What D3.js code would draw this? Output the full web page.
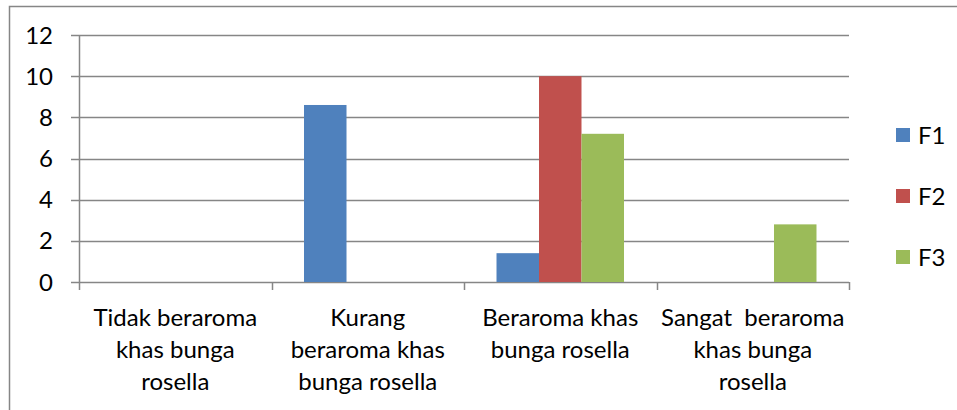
<!DOCTYPE html>
<html>
<head>
<meta charset="utf-8">
<script src="https://cdn.jsdelivr.net/npm/d3@7"></script>
<style>
  html, body { margin: 0; padding: 0; background: #fff; }
  svg { display: block; }
  text { font-family: Lato, "Open Sans", sans-serif; fill: #000; }
</style>
</head>
<body>
<div id="chart"></div>
<script>
// Chart data
const categories = ["Tidak beraroma", "Kurang beraroma", "Beraroma", "Sangat beraroma"];
const categoryLines = [
    ["Tidak beraroma", "khas bunga", "rosella"],
    ["Kurang", "beraroma khas", "bunga rosella"],
    ["Beraroma khas", "bunga rosella"],
    ["Sangat  beraroma", "khas bunga", "rosella"]
];
const seriesNames = ["F1", "F2", "F3"];
const seriesColors = ["#4F81BD", "#C0504D", "#9BBB59"];
const valuesF1 = [0, 8.6, 1.4, 0];
const valuesF2 = [0, 0, 10, 0];
const valuesF3 = [0, 0, 7.2, 2.8];
const yTicks = [0, 2, 4, 6, 8, 10, 12];

const width = 957, height = 410;
const plotLeft = 79, plotRight = 849, plotTop = 35, plotBottom = 282;
const fontSize = 24;

const svg = d3.select("#chart").append("svg")
    .attr("width", width)
    .attr("height", height);

// Outer frame (only top and left edges visible)
svg.append("path")
    .attr("d", `M9.5,${height} V6.5 H${width}`)
    .attr("fill", "none")
    .attr("stroke", "#868686")
    .attr("stroke-width", 1.5);

const x0 = d3.scaleBand()
    .domain(categories)
    .range([plotLeft, plotRight])
    .padding(0);

const x1 = d3.scaleBand()
    .domain(seriesNames)
    .range([0, x0.bandwidth()])
    .paddingInner(0)
    .paddingOuter(0.765);

const y = d3.scaleLinear()
    .domain([0, 12])
    .range([plotBottom, plotTop]);

const color = d3.scaleOrdinal().domain(seriesNames).range(seriesColors);

// Gridlines with left tick marks
svg.append("g")
    .selectAll("line")
    .data(yTicks)
    .enter()
    .append("line")
    .attr("x1", plotLeft - 8)
    .attr("x2", plotRight)
    .attr("y1", d => Math.round(y(d)) + 0.5)
    .attr("y2", d => Math.round(y(d)) + 0.5)
    .attr("stroke", "#868686")
    .attr("stroke-width", 1.5);

// Y axis labels
svg.append("g")
    .selectAll("text")
    .data(yTicks)
    .enter()
    .append("text")
    .attr("x", 53)
    .attr("y", d => y(d))
    .attr("dy", "0.36em")
    .attr("text-anchor", "end")
    .style("font-size", fontSize + "px")
    .text(d => d);

// Bars
const seriesValues = [valuesF1, valuesF2, valuesF3];
const barData = [];
seriesNames.forEach((s, si) => {
    categories.forEach((c, ci) => {
        barData.push({ series: s, category: c, value: seriesValues[si][ci] });
    });
});

svg.append("g")
    .selectAll("rect")
    .data(barData.filter(d => d.value > 0))
    .enter()
    .append("rect")
    .attr("x", d => x0(d.category) + x1(d.series))
    .attr("width", x1.bandwidth())
    .attr("y", d => y(d.value))
    .attr("height", d => y(0) - y(d.value))
    .attr("fill", d => color(d.series));

// Axis lines
svg.append("line")
    .attr("x1", plotLeft + 0.5).attr("x2", plotLeft + 0.5)
    .attr("y1", plotTop).attr("y2", plotBottom + 1)
    .attr("stroke", "#868686")
    .attr("stroke-width", 1.5);

const xBoundaries = categories.map(c => x0(c)).concat([plotRight]);
svg.append("g")
    .selectAll("line")
    .data(xBoundaries)
    .enter()
    .append("line")
    .attr("x1", d => Math.round(d) + 0.5)
    .attr("x2", d => Math.round(d) + 0.5)
    .attr("y1", plotBottom)
    .attr("y2", plotBottom + 8)
    .attr("stroke", "#868686")
    .attr("stroke-width", 1.5);

// Category labels
const catLabel = svg.append("g")
    .selectAll("text")
    .data(categories)
    .enter()
    .append("text")
    .attr("x", d => x0(d) + x0.bandwidth() / 2)
    .attr("y", 326)
    .attr("text-anchor", "middle")
    .style("font-size", fontSize + "px")
    .style("white-space", "pre");

catLabel.selectAll("tspan")
    .data((d, i) => categoryLines[i])
    .enter()
    .append("tspan")
    .attr("x", function() { return this.parentNode.getAttribute("x"); })
    .attr("dy", (d, i) => i === 0 ? 0 : 32)
    .text(d => d);

// Legend
const legend = svg.append("g")
    .selectAll("g")
    .data(seriesNames)
    .enter()
    .append("g")
    .attr("transform", (d, i) => `translate(896, ${135 + i * 61})`);

legend.append("rect")
    .attr("x", 0)
    .attr("y", -7)
    .attr("width", 14)
    .attr("height", 14)
    .attr("fill", d => color(d));

legend.append("text")
    .attr("x", 22)
    .attr("y", 0)
    .attr("dy", "0.36em")
    .style("font-size", fontSize + "px")
    .text(d => d);
</script>
</body>
</html>
